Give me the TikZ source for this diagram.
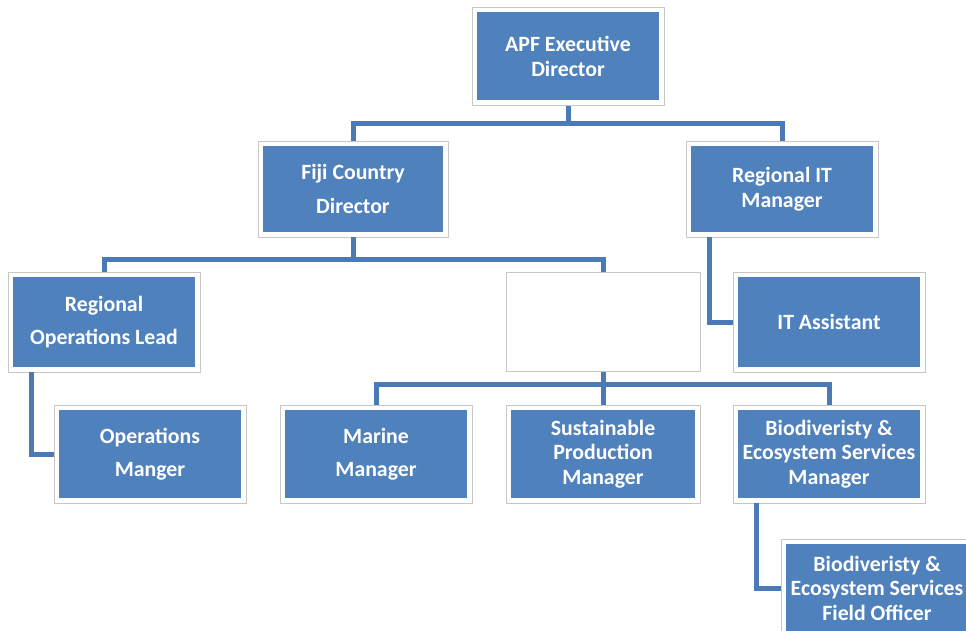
\documentclass[tikz,border=0pt]{standalone}
\usepackage{fontspec}
\setmainfont{Carlito}
\definecolor{boxblue}{HTML}{4F81BD}
\definecolor{lineblue}{HTML}{4A7BB7}

\begin{document}
\begin{tikzpicture}[x=1pt,y=-1pt,
  frame/.style={rectangle,draw=black!22,fill=white,line width=.8pt,
    minimum width=192pt,minimum height=98pt,inner sep=0pt},
  role/.style={frame,text=white,align=center,
    font=\fontsize{21.8}{24.5}\selectfont\bfseries,
    path picture={\fill[boxblue]
      ([shift={(5pt,5pt)}]path picture bounding box.south west) rectangle
      ([shift={(-5pt,-5pt)}]path picture bounding box.north east);}},
  vacant/.style={frame},
  link/.style={draw=lineblue,line width=5pt}]
    \clip (0,0) rectangle (966,631);
    % Top
    \node[role] (exec) at (568,56.5) {APF Executive\\Director};
    % Second row
    \node[role,minimum width=190pt,minimum height=96pt] (fiji) at (353,189) {Fiji Country\\[9pt]Director};
    \node[role,minimum height=96pt] (itmgr) at (782,189) {Regional IT\\Manager};
    % Third row
    \node[role,minimum height=100pt] (opslead) at (104,322) {Regional\\[9pt]Operations Lead};
    \node[vacant,minimum width=194pt,minimum height=99pt] (empty) at (603,322) {};
    \node[role,minimum height=100pt] (itasst) at (829,322) {IT Assistant};
    % Fourth row
    \node[role] (opsmgr) at (150,454) {Operations\\[9pt]Manger};
    \node[role] (marine) at (376,454) {Marine\\[9pt]Manager};
    \node[role,minimum width=194pt] (sustain) at (603,454) {Sustainable\\Production\\Manager};
    \node[role] (biomgr) at (829,454) {Biodiveristy \&\\Ecosystem Services\\Manager};
    % Bottom
    \node[role] (field) at (877,588) {Biodiveristy \&\\Ecosystem Services\\Field Officer};
    % Connectors
    \draw[link] (exec.south) -- ++(0,18) -| (fiji.north);
    \draw[link] (exec.south) -- ++(0,18) -| (itmgr.north);
    \draw[link] (fiji.south) -- ++(0,22) -| (opslead.north);
    \draw[link] (fiji.south) -- ++(0,22) -| (empty.north);
    \draw[link] ([xshift=-73pt]itmgr.south) |- (itasst.west);
    \draw[link] ([xshift=-73pt]opslead.south) |- (opsmgr.west);
    \draw[link] (empty.south) -- ++(0,13) -| (marine.north);
    \draw[link] (empty.south) -- ++(0,13) -| (sustain.north);
    \draw[link] (empty.south) -- ++(0,13) -| (biomgr.north);
    \draw[link] ([xshift=-73pt]biomgr.south) |- (field.west);
\end{tikzpicture}
\end{document}
